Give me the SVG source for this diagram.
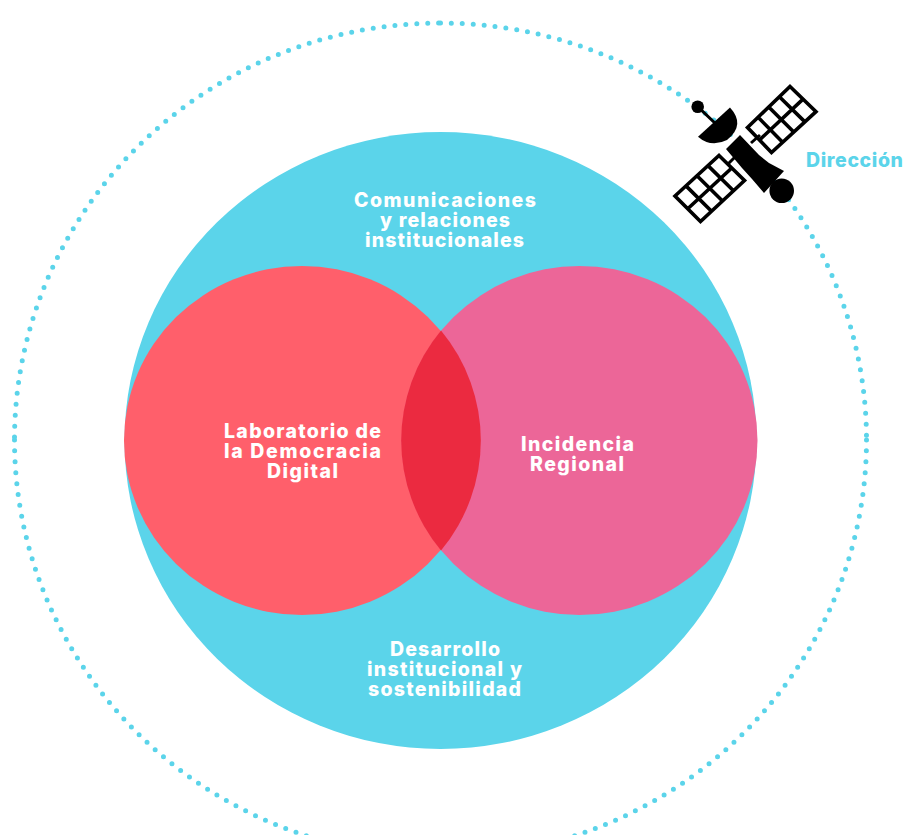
<svg xmlns="http://www.w3.org/2000/svg" width="904" height="835" viewBox="0 0 904 835">
<style>
.t{font-family:"Inter","Liberation Sans",sans-serif;font-weight:800;font-size:19.5px;fill:#fff}
.dots{fill:none;stroke:#5BD4EA;stroke-width:5;stroke-linecap:round;stroke-dasharray:0 10.95}
.g{fill:none;stroke:#000;stroke-width:3.600;stroke-linejoin:miter}
</style>
<rect width="904" height="835" fill="#fff"/>
<g id="orbit">
<path class="dots" d="M14.500 437A426 417 0 0 1 440.500 23"/>
<path class="dots" d="M440.500 23A426 417 0 0 1 866.500 440"/>
<path class="dots" d="M14.500 440A426 417 0 0 0 440.500 857"/>
<path class="dots" d="M866.500 440A426 417 0 0 1 440.500 857"/>
</g>
<g id="outer-circle"><ellipse cx="440.500" cy="440.500" rx="316" ry="308.500" fill="#5BD4EA"/>
<text class="t" x="354" y="207" textLength="182">Comunicaciones</text>
<text class="t" x="380" y="226.500" textLength="130">y relaciones</text>
<text class="t" x="365" y="246.500" textLength="159">institucionales</text>
<text class="t" x="390" y="656" textLength="110">Desarrollo</text>
<text class="t" x="367" y="675.500" textLength="155">institucional y</text>
<text class="t" x="368" y="695.500" textLength="153">sostenibilidad</text>
</g>
<g id="lab-circle"><ellipse cx="302" cy="440.500" rx="178" ry="174.500" fill="#FF5F6B"/></g>
<g id="regional-circle"><ellipse cx="579.500" cy="440.500" rx="178" ry="174.500" fill="#EC6698"/></g>
<g id="overlap"><path d="M441 330.500A178 174.500 0 0 1 441 550.500A178 174.500 0 0 1 441 330.500Z" fill="#EB2A40"/></g>
<g id="labels">
<text class="t" x="224" y="437.500" textLength="157">Laboratorio de</text>
<text class="t" x="224" y="457.500" textLength="157">la Democracia</text>
<text class="t" x="267" y="477.500" textLength="71">Digital</text>
<text class="t" x="521" y="450.500" textLength="113">Incidencia</text>
<text class="t" x="530" y="471" textLength="94">Regional</text>
</g>
<g id="satellite">
<path class="g" d="M790 86.500L816 111.700L771.500 152.500L747.500 127.500ZM779.400 96.750L804.900 121.900M768.750 107L793.750 132.100M758.100 117.250L782.600 142.300M803 99.100L759.500 140"/>
<path class="g" d="M719 155.500L744.500 180.500L700.500 221.500L675 196ZM708 165.600L733.500 190.750M697 175.750L722.500 201M686 185.900L711.500 211.250M731.750 168L687.750 208.750"/>
<path d="M726 149L740 135L759 155L769 163L784 171L764 193L752 179L742 168Z"/>
<path d="M698 136.700L730 107.500Q746 125 727 140Q711 148 698 136.700Z"/>
<path d="M697.700 106.700L717 125M751 143L760 135M735 157L727 165" stroke="#000" stroke-width="3" fill="none"/>
<circle cx="697.700" cy="106.700" r="6.300"/>
<circle cx="781.700" cy="190.700" r="12.300"/>
</g>
<g id="direccion"><text class="t" x="806" y="167" textLength="97" style="fill:#5BD4EA">Dirección</text></g>
</svg>
